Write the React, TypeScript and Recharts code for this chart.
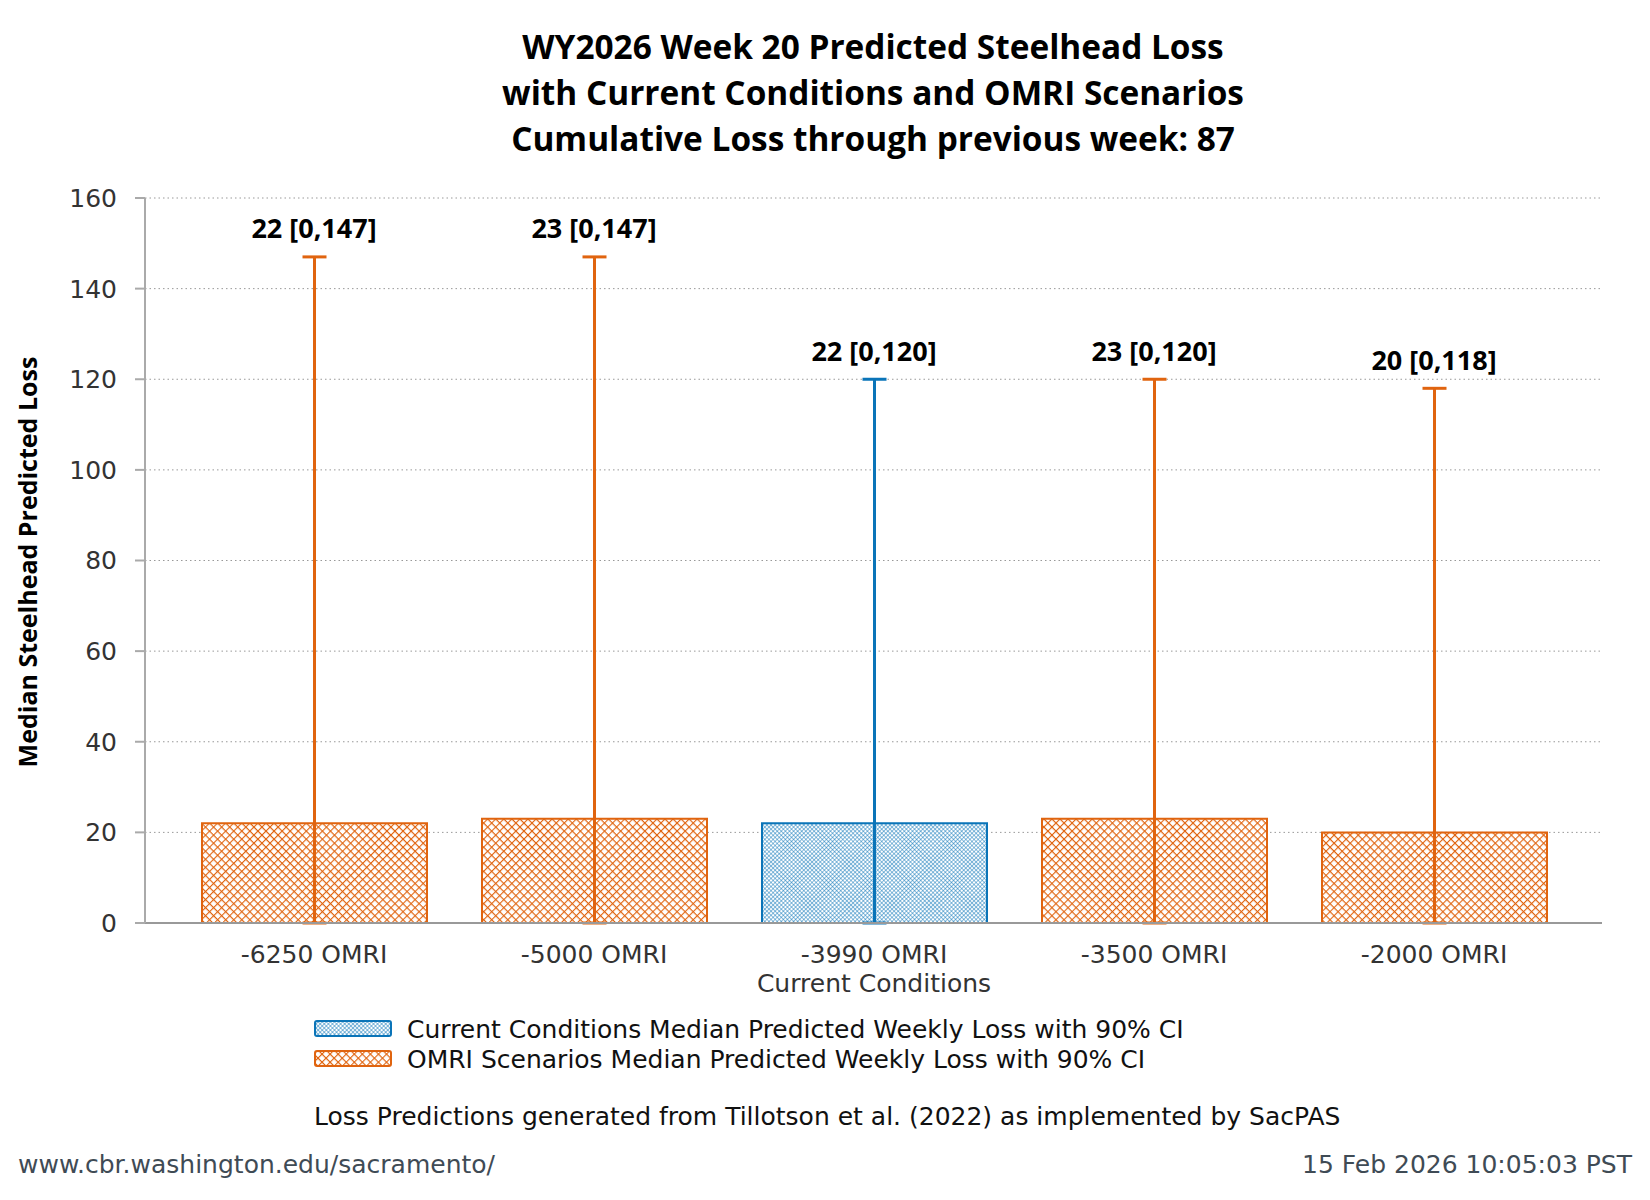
import React from 'react';
import {
  ComposedChart,
  Bar,
  Line,
  XAxis,
  YAxis,
  CartesianGrid,
  ErrorBar,
  Cell,
  LabelList,
  Legend,
} from 'recharts';

// ---- data ----
const categories = ['-6250 OMRI', '-5000 OMRI', '-3990 OMRI', '-3500 OMRI', '-2000 OMRI'];
const subLabels = ['', '', 'Current Conditions', '', ''];
const medians = [22, 23, 22, 23, 20];
const lowerCI = [0, 0, 0, 0, 0];
const upperCI = [147, 147, 120, 120, 118];
const isCurrent = [false, false, true, false, false];
const yTicks = [0, 20, 40, 60, 80, 100, 120, 140, 160];
const titleLines = [
  'WY2026 Week 20 Predicted Steelhead Loss',
  'with Current Conditions and OMRI Scenarios',
  'Cumulative Loss through previous week: 87',
];
const legendLabels = [
  'Current Conditions Median Predicted Weekly Loss with 90% CI',
  'OMRI Scenarios Median Predicted Weekly Loss with 90% CI',
];
const yAxisTitle = 'Median Steelhead Predicted Loss';
const sourceNote = 'Loss Predictions generated from Tillotson et al. (2022) as implemented by SacPAS';
const footerLeft = 'www.cbr.washington.edu/sacramento/';
const footerRight = '15 Feb 2026 10:05:03 PST';

// ---- styles ----
const ORANGE = '#E0640F';
const BLUE = '#0A74B8';
const TITLE_FONT = '"Open Sans", "Noto Sans", sans-serif';
const BODY_FONT = '"DejaVu Sans", sans-serif';

const data = categories.map((name, i) => ({
  name,
  sub: subLabels[i],
  median: medians[i],
  upper: upperCI[i],
  errCurrent: isCurrent[i] ? [medians[i] - lowerCI[i], upperCI[i] - medians[i]] : null,
  errOmri: !isCurrent[i] ? [medians[i] - lowerCI[i], upperCI[i] - medians[i]] : null,
  label: `${medians[i]} [${lowerCI[i]},${upperCI[i]}]`,
  current: isCurrent[i],
}));

const XTick = (props: any) => {
  const { x, y, payload, index } = props;
  const sub = subLabels[index] ?? '';
  return (
    <g>
      <text x={x} y={y} dy={40} textAnchor="middle" fontSize={25} fill="#333" fontFamily={BODY_FONT}>
        {payload.value}
      </text>
      {sub ? (
        <text x={x} y={y} dy={69} textAnchor="middle" fontSize={25} fill="#333" fontFamily={BODY_FONT}>
          {sub}
        </text>
      ) : null}
    </g>
  );
};

const TopLabel = (props: any) => {
  const { x, y, value } = props;
  return (
    <text
      x={x}
      y={y - 29}
      textAnchor="middle"
      dominantBaseline="central"
      fontSize={27}
      fontWeight="bold"
      fontFamily={TITLE_FONT}
      fill="#000"
    >
      {value}
    </text>
  );
};

const LegendContent = () => (
  <svg width={960} height={64} style={{ display: 'block', overflow: 'visible' }}>
    {legendLabels.map((lab, i) => (
      <g key={lab}>
        <rect
          x={1}
          y={8 + i * 30}
          width={76}
          height={15}
          rx={2}
          fill={i === 0 ? 'url(#hatchBlue)' : 'url(#hatchOrange)'}
          stroke={i === 0 ? BLUE : ORANGE}
          strokeWidth={2}
        />
        <text
          x={93}
          y={16 + i * 30}
          dominantBaseline="central"
          fontSize={25}
          fill="#111"
          fontFamily={BODY_FONT}
        >
          {lab}
        </text>
      </g>
    ))}
  </svg>
);

export default function App() {
  return (
    <div style={{ position: 'absolute', left: 0, top: 0, width: 1650, height: 1200, background: '#fff' }}>
      <ComposedChart
        width={1650}
        height={1200}
        data={data}
        margin={{ top: 198, right: 48, bottom: 217, left: 0 }}
      >
        <defs>
          <pattern
            id="hatchOrange"
            width={5.7}
            height={5.7}
            patternUnits="userSpaceOnUse"
            patternTransform="rotate(45)"
          >
            <rect width={5.7} height={5.7} fill="#fff" />
            <path d="M0,0 H5.7 M0,0 V5.7" stroke={ORANGE} strokeWidth={2.2} />
          </pattern>
          <pattern
            id="hatchBlue"
            width={2.9}
            height={2.9}
            patternUnits="userSpaceOnUse"
            patternTransform="rotate(45)"
          >
            <rect width={2.9} height={2.9} fill="#fff" />
            <path d="M0,0 H2.9 M0,0 V2.9" stroke={BLUE} strokeWidth={0.95} />
          </pattern>
        </defs>

        <CartesianGrid vertical={false} stroke="#999" strokeDasharray="1.5 3" />

        <XAxis
          dataKey="name"
          height={60}
          interval={0}
          tickLine={false}
          tickSize={0}
          tickMargin={0}
          axisLine={{ stroke: '#999', strokeWidth: 2 }}
          padding={{ left: 29, right: 28 }}
          tick={<XTick />}
        />
        <YAxis
          width={145}
          domain={[0, 160]}
          ticks={yTicks}
          interval={0}
          tickSize={10}
          tickMargin={18}
          axisLine={{ stroke: '#aaa', strokeWidth: 2 }}
          tickLine={{ stroke: '#aaa', strokeWidth: 2 }}
          tick={{ fontSize: 25, fill: '#333', fontFamily: BODY_FONT }}
        />

        <Bar dataKey="median" barSize={225} strokeWidth={2} isAnimationActive={false} legendType="none">
          {data.map((d) => (
            <Cell
              key={d.name}
              fill={d.current ? 'url(#hatchBlue)' : 'url(#hatchOrange)'}
              stroke={d.current ? BLUE : ORANGE}
            />
          ))}
          <ErrorBar dataKey="errOmri" direction="y" width={12} strokeWidth={3} stroke={ORANGE} />
          <ErrorBar dataKey="errCurrent" direction="y" width={12} strokeWidth={3} stroke={BLUE} />
        </Bar>

        <Line
          dataKey="upper"
          stroke="none"
          dot={false}
          activeDot={false}
          isAnimationActive={false}
          legendType="none"
        >
          <LabelList dataKey="label" content={<TopLabel />} />
        </Line>

        <Legend
          layout="vertical"
          align="center"
          verticalAlign="middle"
          wrapperStyle={{ left: 314, top: 1013, width: 960, height: 64 }}
          content={<LegendContent />}
        />

        {titleLines.map((t, i) => (
          <text
            key={t}
            x={873}
            y={46 + i * 46}
            textAnchor="middle"
            dominantBaseline="central"
            fontSize={33.4}
            fontWeight="bold"
            fontFamily={TITLE_FONT}
            fill="#000"
          >
            {t}
          </text>
        ))}

        <text
          x={27}
          y={562}
          transform="rotate(-90 27 562)"
          textAnchor="middle"
          dominantBaseline="central"
          fontSize={25}
          fontWeight="bold"
          fontFamily={TITLE_FONT}
          fill="#000"
        >
          {yAxisTitle}
        </text>

        <text x={314} y={1116} dominantBaseline="central" fontSize={25} fill="#111" fontFamily={BODY_FONT}>
          {sourceNote}
        </text>
        <text x={18} y={1164} dominantBaseline="central" fontSize={25} fill="#3f4b55" fontFamily={BODY_FONT}>
          {footerLeft}
        </text>
        <text
          x={1632}
          y={1164}
          textAnchor="end"
          dominantBaseline="central"
          fontSize={25}
          fill="#3f4b55"
          fontFamily={BODY_FONT}
        >
          {footerRight}
        </text>
      </ComposedChart>
    </div>
  );
}
